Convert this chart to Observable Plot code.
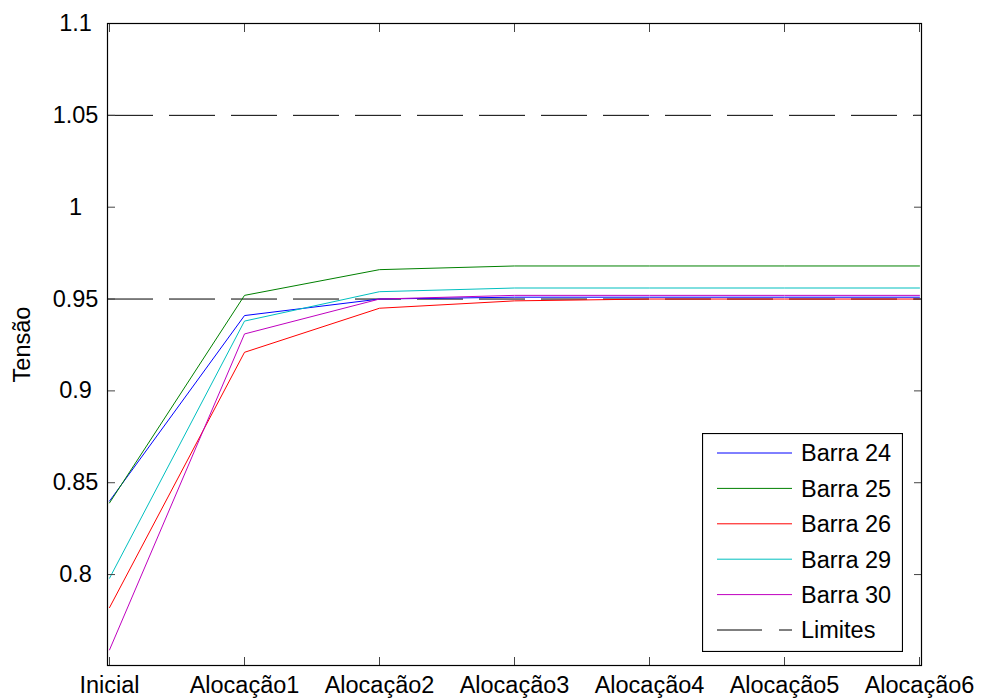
<!DOCTYPE html>
<html>
<head>
<meta charset="utf-8">
<script src="https://cdn.jsdelivr.net/npm/d3@7"></script>
<script src="https://cdn.jsdelivr.net/npm/@observablehq/plot@0.6"></script>
<style>
  html, body { margin: 0; padding: 0; background: #fff; }
  #wrap { position: relative; width: 985px; height: 700px; font-family: "Liberation Sans", Arial, sans-serif; }
  #legend { position: absolute; }
</style>
</head>
<body>
<div id="wrap"></div>
<script>
const categories = ["Inicial", "Alocação1", "Alocação2", "Alocação3", "Alocação4", "Alocação5", "Alocação6"];
const seriesNames = ["Barra 24", "Barra 25", "Barra 26", "Barra 29", "Barra 30"];
const barra24 = [0.840, 0.941, 0.950, 0.951, 0.951, 0.951, 0.951];
const barra25 = [0.839, 0.952, 0.966, 0.968, 0.968, 0.968, 0.968];
const barra26 = [0.782, 0.921, 0.945, 0.949, 0.950, 0.950, 0.950];
const barra29 = [0.798, 0.938, 0.954, 0.956, 0.956, 0.956, 0.956];
const barra30 = [0.759, 0.931, 0.950, 0.952, 0.952, 0.952, 0.952];
const limites = [0.95, 1.05];
const yTicks = [0.8, 0.85, 0.9, 0.95, 1, 1.05, 1.1];
const colors = ["#0000ff", "#008000", "#ff0000", "#00bfbf", "#bf00bf"];

const allSeries = [barra24, barra25, barra26, barra29, barra30];
const rows = [];
allSeries.forEach((vals, i) => vals.forEach((v, j) => rows.push({serie: seriesNames[i], cat: categories[j], v})));

const font = "Liberation Sans, Arial, sans-serif";
const chart = Plot.plot({
  width: 985,
  height: 700,
  marginLeft: 107,
  marginRight: 64,
  marginTop: 23,
  marginBottom: 35,
  style: {fontFamily: font, fontSize: "23.5px", background: "#fff", color: "#000"},
  x: {type: "point", domain: categories, padding: 0},
  y: {domain: [0.7505, 1.1]},
  color: {domain: seriesNames, range: colors},
  marks: [
    Plot.ruleY(limites, {stroke: "#000", strokeWidth: 1, strokeDasharray: "46,16"}),
    Plot.line(rows, {x: "cat", y: "v", z: "serie", stroke: "serie", strokeWidth: 1}),
    Plot.axisX({anchor: "bottom", tickSize: 0, tickPadding: 11, label: null, fontSize: 23.5}),
    Plot.axisX({anchor: "bottom", tickSize: -8, text: null, label: null, stroke: "#444"}),
    Plot.axisX({anchor: "top", tickSize: -8, text: null, label: null, stroke: "#444"}),
    Plot.axisY({anchor: "left", ticks: yTicks, tickSize: 0, tickPadding: 32, textAnchor: "middle", tickFormat: d => `${d}`, label: "Tensão", labelAnchor: "center", labelOffset: 94, labelArrow: "none", fontSize: 23.5}),
    Plot.axisY({anchor: "left", ticks: yTicks, tickSize: -8, text: null, label: null, stroke: "#444"}),
    Plot.axisY({anchor: "right", ticks: yTicks, tickSize: -8, text: null, label: null, stroke: "#444"}),
    Plot.frame({stroke: "#000", strokeWidth: 1.2})
  ]
});
const wrap = document.getElementById("wrap");
wrap.appendChild(chart);

// Legend (MATLAB-style box inside the axes)
const legItems = seriesNames.map((n, i) => ({label: n, color: colors[i], dash: null}))
  .concat([{label: "Limites", color: "#000", dash: "45,17"}]);
const lw = 201, lh = 219;
const leg = d3.select(wrap).append("svg")
  .attr("id", "legend")
  .attr("width", lw).attr("height", lh)
  .style("left", "702px").style("top", "433px");
leg.append("rect").attr("x", 0.5).attr("y", 0.5).attr("width", lw - 1).attr("height", lh - 1)
  .attr("fill", "#fff").attr("stroke", "#000").attr("stroke-width", 1.2);
const g = leg.selectAll("g").data(legItems).join("g")
  .attr("transform", (d, i) => `translate(0,${20 + i * 35.4})`);
g.append("line").attr("x1", 15).attr("x2", 90).attr("y1", 0).attr("y2", 0)
  .attr("stroke", d => d.color).attr("stroke-width", 1)
  .attr("stroke-dasharray", d => d.dash);
g.append("text").attr("x", 99).attr("y", 0).attr("dy", "0.36em")
  .attr("font-family", font).attr("font-size", 23.5).attr("fill", "#000")
  .text(d => d.label);
</script>
</body>
</html>
